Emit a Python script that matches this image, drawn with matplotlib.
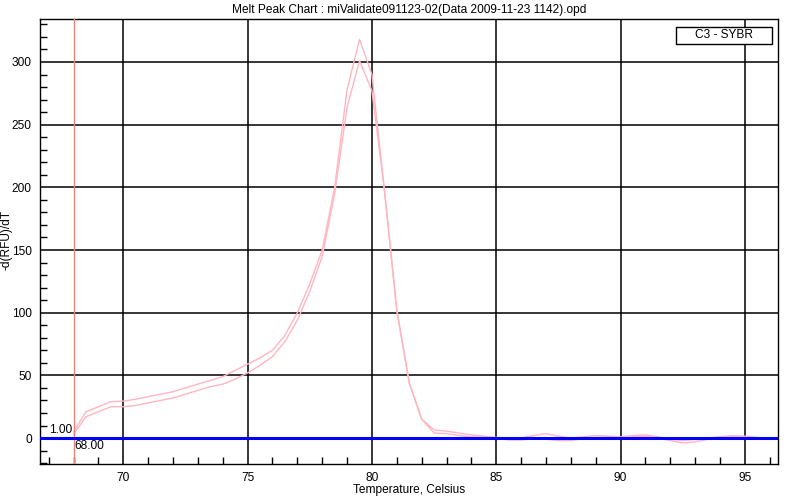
import numpy as np
import matplotlib
matplotlib.use("Agg")
import matplotlib.pyplot as plt
from matplotlib.ticker import MultipleLocator
from matplotlib.patches import Rectangle

# temperatures, 0.5 degree steps
temps = np.arange(68.0, 96.0, 0.5)

# two melt peak traces
trace_a = [5, 21, 25, 29, 29.5, 31, 33, 35, 37, 40, 43, 46, 49, 54, 59, 64, 70, 82,
           100, 123, 150, 200, 278, 318, 290, 198, 103, 44, 15, 6.5, 5.5, 4, 2.5, 1.5,
           0.5, -0.5, 0, 2, 3.5, 1.5, 0, 1, 2, 1.5, 1, 2, 2.5, 1, -1, -2, -1, 0, 1, 2,
           1.5, 0.5]
trace_b = [3, 17, 21, 25, 25, 26, 28, 30, 32, 35, 38, 41, 43, 47, 52, 58, 65, 77,
           94, 117, 145, 195, 264, 301, 277, 198, 101, 44, 15, 4, 3.5, 2, 1, 0.5,
           0, -1.5, -1.5, -0.5, -1, -2, -2, -0.5, 0.5, 1, 0, 1, 1.5, 0, -2, -4, -3,
           -1, 0.5, 1, 1, 0]

title = "Melt Peak Chart : miValidate091123-02(Data 2009-11-23 1142).opd"
legend_label = "C3 - SYBR"
threshold = 0.0
start_temp = 68.0

plt.rcParams['font.family'] = ['Liberation Sans', 'DejaVu Sans']
fs = 8.6

fig = plt.figure(figsize=(8, 5), dpi=100)
ax = fig.add_axes([0.05, 0.072, 0.9225, 0.89])

ax.set_xlim(66.65, 96.33)
ax.set_ylim(-20.7, 334.3)

ax.xaxis.set_major_locator(MultipleLocator(5))
ax.xaxis.set_minor_locator(MultipleLocator(1))
ax.yaxis.set_major_locator(MultipleLocator(50))
ax.yaxis.set_minor_locator(MultipleLocator(10))
ax.grid(True, which='major', color='black', lw=1.1)
ax.tick_params(which='major', length=0, labelsize=fs, pad=6)
ax.tick_params(which='minor', direction='in', length=5, width=1, color='black')
for s in ax.spines.values():
    s.set_color('black')
    s.set_linewidth(1)

ax.plot(temps, trace_a, color='#ffb6c1', lw=1)
ax.plot(temps, trace_b, color='#ffb6c1', lw=1)

ax.axhline(threshold, color='#0000ff', lw=2.2, zorder=5)
ax.axvline(start_temp, color='#e8857a', lw=1, zorder=4)
ax.text(start_temp - 0.05, threshold + 1.5, "1.00", fontsize=fs, ha='right', va='bottom')
ax.text(start_temp + 0.05, threshold - 1.5, "68.00", fontsize=fs, ha='left', va='top')

ax.set_title(title, fontsize=fs, pad=4)
ax.set_xlabel("Temperature, Celsius", fontsize=fs, labelpad=0)
fig.text(0.008, 0.52, "-d(RFU)/dT", fontsize=fs, rotation=90, ha='center', va='center')

# legend box
fig.patches.append(Rectangle((0.845, 0.912), 0.12, 0.034, transform=fig.transFigure,
                             fc='white', ec='black', lw=1, zorder=10))
fig.text(0.905, 0.929, legend_label, fontsize=fs, ha='center', va='center', zorder=11)

fig.savefig("out.png", dpi=100)
